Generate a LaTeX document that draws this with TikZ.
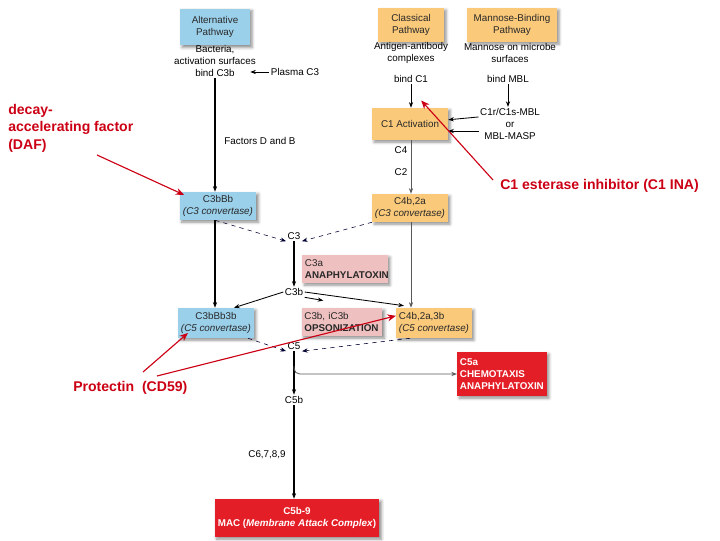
\documentclass[tikz,border=0pt]{standalone}
\usepackage{fontspec}
\setsansfont{Liberation Sans}
\usepackage{tikz}
\usetikzlibrary{positioning, arrows.meta, calc, shadows.blur}

\definecolor{altblue}{RGB}{155,208,235}
\definecolor{clsorange}{RGB}{250,201,122}
\definecolor{prodpink}{RGB}{238,192,192}
\definecolor{macred}{RGB}{228,30,38}
\definecolor{notered}{RGB}{204,0,20}
\definecolor{boxtext}{RGB}{40,40,40}

\begin{document}
\begin{tikzpicture}[
  x=0.025cm, y=-0.025cm,
  font=\sffamily\fontsize{7}{8.4}\selectfont,
  box/.style={inner sep=2pt, align=center, text=boxtext,
    blur shadow={shadow xshift=1.5pt, shadow yshift=-1.5pt,
      shadow blur radius=2pt, shadow opacity=45}},
  bluebox/.style={box, fill=altblue},
  orbox/.style={box, fill=clsorange},
  pinkbox/.style={box, fill=prodpink, align=left, text width=#1},
  redbox/.style={box, fill=macred, text=white,
    font=\sffamily\bfseries\fontsize{7}{8.4}\selectfont},
  lbl/.style={inner sep=1pt, align=center},
  note/.style={text=notered, font=\sffamily\bfseries\fontsize{10}{12.4}\selectfont,
    align=left, inner sep=0pt},
  arr/.style={-{Stealth[length=4pt,width=3pt]}, semithick},
  dasharr/.style={arr, dashed, thin, draw=black!80!blue},
  grayarr/.style={arr, draw=gray!70!black},
  redarr/.style={-{Stealth[length=6pt,width=5pt]}, draw=notered, thick},
]
  \useasboundingbox (0,0) rectangle (720,540);

  % pathways
  \node[bluebox, minimum width=1.75cm, minimum height=0.92cm] (alt) at (215,27)
    {Alternative\\Pathway};
  \node[orbox, minimum width=1.65cm, minimum height=0.85cm] (cls) at (411,25)
    {Classical\\Pathway};
  \node[orbox, minimum width=2.25cm, minimum height=0.85cm] (mbl) at (512,25)
    {Mannose-Binding\\Pathway};

  \node[lbl] (bact) at (215,61) {Bacteria,\\activation surfaces\\bind C3b};
  \node[lbl] (plasma) at (295,72) {Plasma C3};
  \node[lbl] (ag) at (411,53) {Antigen-antibody\\complexes};
  \node[lbl] (man) at (510,53) {Mannose on microbe\\surfaces};
  \node[lbl] (bc1) at (411,79) {bind C1};
  \node[lbl] (bmbl) at (508,79) {bind MBL};
  \node[lbl] (masp) at (510,124) {C1r/C1s-MBL\\or\\MBL-MASP};

  \node[orbox, minimum width=1.9cm, minimum height=0.8cm] (c1act) at (410,124)
    {C1 Activation};
  \node[orbox, minimum width=1.85cm, minimum height=0.7cm] (c4b2a) at (410,208)
    {C4b,2a\\\textit{(C3 convertase)}};
  \node[bluebox, minimum width=1.92cm, minimum height=0.7cm] (c3bbb) at (218,206)
    {C3bBb\\\textit{(C3 convertase)}};
  \node[lbl] (factors) at (260,141) {Factors D and B};
  \node[lbl] (c4) at (401,150) {C4};
  \node[lbl] (c2) at (401,172) {C2};

  % C3 cleavage
  \node[lbl] (c3) at (294,236) {C3};
  \node[pinkbox=2.0cm, minimum height=0.7cm] (c3a) at (345,269)
    {C3a\\\textbf{ANAPHYLATOXIN}};
  \node[lbl] (c3b) at (294,292) {C3b};

  \node[bluebox, minimum width=1.8cm, minimum height=0.75cm] (c3bbb3b) at (216,323)
    {C3bBb3b\\\textit{(C5 convertase)}};
  \node[pinkbox=1.88cm, minimum height=0.7cm] (opso) at (342,322)
    {C3b, iC3b\\\textbf{OPSONIZATION}};
  \node[orbox, align=left, minimum width=1.8cm, minimum height=0.75cm] (c4b2a3b) at (434,323)
    {C4b,2a,3b\\\textit{(C5 convertase)}};

  % C5 cleavage
  \node[lbl] (c5) at (294,346) {C5};
  \node[redbox, align=left, text width=2.1cm, minimum height=1.1cm] (c5a) at (502,374)
    {C5a\\CHEMOTAXIS\\ANAPHYLATOXIN};
  \node[lbl] (c5b) at (294,400) {C5b};
  \node[lbl] (c6) at (267,455) {C6,7,8,9};
  \node[redbox, minimum width=4.12cm, minimum height=0.95cm] (mac) at (297,518)
    {C5b-9\\MAC (\textit{Membrane Attack Complex})};

  % connectors
  \draw[arr, thick] (bact.south) -- (bact.south |- c3bbb.north);
  \draw[arr] (plasma.west) -- ++(-19,0);
  \draw[arr] (bc1) -- (c1act.north -| bc1);
  \draw[arr] (bmbl) -- (masp.north -| bmbl);
  \draw[arr] ([yshift=5pt]masp.west) -- ([yshift=3pt]c1act.east);
  \draw[arr] ([yshift=-5pt]masp.west) -- ([yshift=-5pt]c1act.east);
  \draw[grayarr] (c1act.south -| bc1) -- (c4b2a.north -| bc1);

  \draw[dasharr] ([xshift=-2pt]c3bbb.south) -- (c3.south west);
  \draw[dasharr] (c4b2a.south west) -- (c3.south east);
  \draw[arr, thick] (c3) -- (c3b);
  \draw[arr, thick] (c3bbb.south -| bact.south) -- (c3bbb3b.north -| bact.south);
  \draw[grayarr] (c4b2a.south -| bc1) -- (c4b2a3b.north -| bc1);
  \draw[arr] (c3b.west) -- ([xshift=0.45cm]c3bbb3b.north);
  \draw[arr] (c3b.south east) -- ([shift={(0.55cm,0.18cm)}]opso.north west);
  \draw[arr] (c3b.east) -- ([shift={(0.2cm,0.05cm)}]c4b2a3b.north west);

  \draw[dasharr] ([xshift=-0.15cm]c3bbb3b.south east) -- (c5.south west);
  \draw[dasharr] ([xshift=-0.6cm]c4b2a3b.south) -- (c5.south east);
  \draw[arr, thick] (c5) -- (c5b);
  \coordinate (c5fork) at (294,366);
  \draw[grayarr, rounded corners=4pt] (c5fork) |- (c5a.west);
  \draw[arr, thick] (c5b) -- (mac.north -| c5b);

  % inhibitors
  \node[note, anchor=north west] (daf) at (8,104) {decay-\\accelerating factor\\(DAF)};
  \node[note, anchor=west] (ina) at (500,186) {C1 esterase inhibitor (C1 INA)};
  \node[note, anchor=west] (cd59) at (73,388) {Protectin~~(CD59)};
  \coordinate (dafend) at (97,155);
  \coordinate (inaend) at (493,180);
  \coordinate (cd59a) at (143,372);
  \coordinate (cd59b) at (157,376);
  \draw[redarr] (dafend) -- ([shift={(0.12cm,-0.08cm)}]c3bbb.north west);
  \draw[redarr] (inaend) -- ([shift={(0.28cm,0.18cm)}]c1act.north);
  \draw[redarr] (cd59a) -- ([shift={(0.25cm,-0.25cm)}]c3bbb3b.west);
  \draw[redarr] (cd59b) -- ([yshift=0.18cm]c4b2a3b.west);
\end{tikzpicture}
\end{document}
